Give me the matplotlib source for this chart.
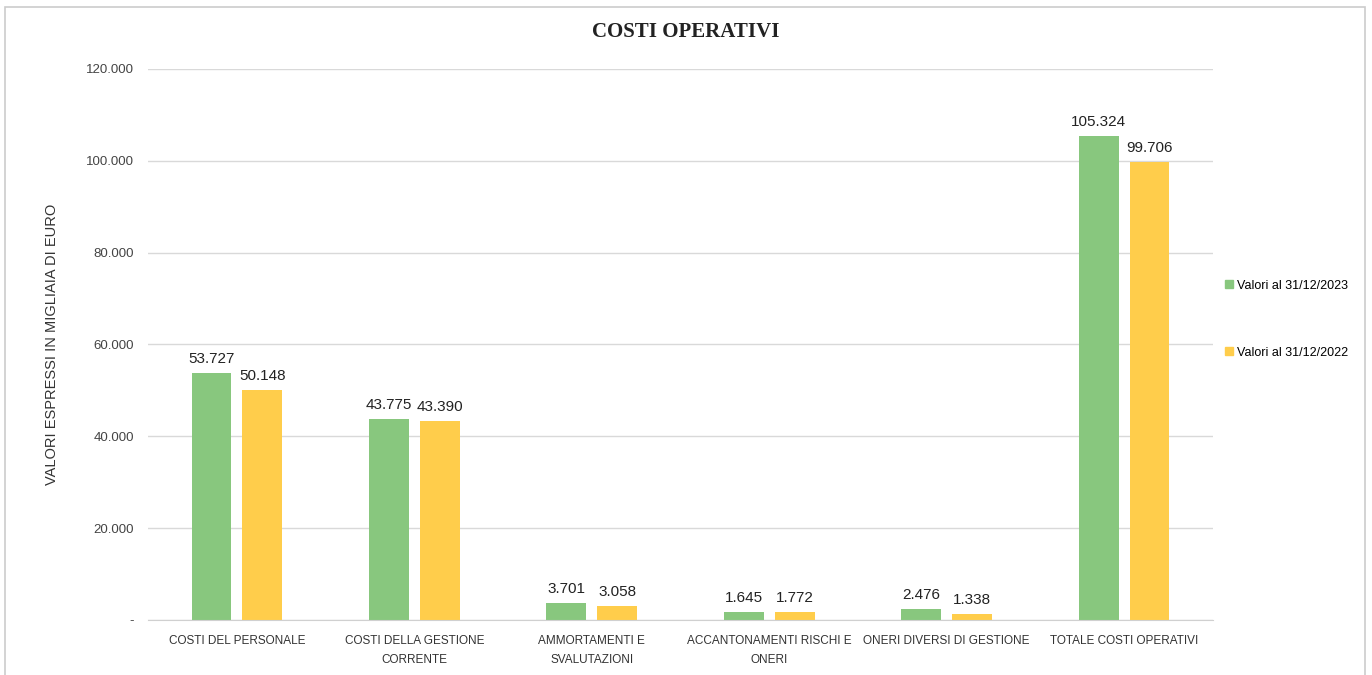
import numpy as np
import matplotlib.pyplot as plt
from matplotlib.patches import Rectangle, Patch
from matplotlib.ticker import FuncFormatter

categorie = ['COSTI DEL PERSONALE', 'COSTI DELLA GESTIONE\nCORRENTE', 'AMMORTAMENTI E\nSVALUTAZIONI',
             'ACCANTONAMENTI RISCHI E\nONERI', 'ONERI DIVERSI DI GESTIONE', 'TOTALE COSTI OPERATIVI']
valori_2023 = [53727, 43775, 3701, 1645, 2476, 105324]
valori_2022 = [50148, 43390, 3058, 1772, 1338, 99706]
etichette = ['Valori al 31/12/2023', 'Valori al 31/12/2022']

VERDE = '#88C77E'
GIALLO = '#FFCD4B'

STRETTO = ['DejaVu Sans Condensed', 'Liberation Sans Narrow', 'Liberation Sans']
plt.rcParams['font.family'] = STRETTO

def fmt(v, pos=None):
    if v == 0:
        return '-'
    return f'{v:,.0f}'.replace(',', '.')

fig = plt.figure(figsize=(13.72, 6.75), dpi=100)
ax = fig.add_axes([0.108, 0.0815, 0.776, 0.8165])

x = np.arange(len(categorie))
w = 0.225
off = 0.143
b1 = ax.bar(x - off, valori_2023, w, color=VERDE)
b2 = ax.bar(x + off, valori_2022, w, color=GIALLO)

for bars, vals in ((b1, valori_2023), (b2, valori_2022)):
    for r, v in zip(bars, vals):
        ax.annotate(fmt(v), (r.get_x() + r.get_width() / 2, v), xytext=(0, 5),
                    textcoords='offset points', ha='center', va='bottom',
                    fontsize=11, color='#222222')

ax.set_xlim(-0.5, len(categorie) - 0.5)
ax.set_ylim(0, 120000)
ax.set_yticks(np.arange(0, 120001, 20000))
ax.yaxis.set_major_formatter(FuncFormatter(fmt))
ax.set_xticks(x)
ax.set_xticklabels(categorie, fontsize=8.5, color='#333333', linespacing=1.7)
ax.tick_params(axis='y', labelsize=9.5, labelcolor='#444444', length=0, pad=10)
ax.tick_params(axis='x', length=0, pad=11)
ax.grid(axis='y', color='#D9D9D9', lw=1)
ax.set_axisbelow(True)
for s in ['top', 'right', 'left']:
    ax.spines[s].set_visible(False)
ax.spines['bottom'].set_color('#D0D0D0')

ax.set_ylabel('VALORI ESPRESSI IN MIGLIAIA DI EURO', fontsize=10.5, color='#333333',
              family=['Liberation Sans', 'DejaVu Sans'], labelpad=20)

fig.text(0.5, 0.952, 'COSTI OPERATIVI', ha='center', va='center', fontsize=15,
         fontweight='bold', family=['Liberation Serif', 'DejaVu Serif'], color='#222222')

handles = [Patch(color=VERDE), Patch(color=GIALLO)]
fig.legend(handles, etichette, loc='center left', bbox_to_anchor=(0.885, 0.527),
           frameon=False, fontsize=9, handlelength=0.6, handleheight=0.6,
           handletextpad=0.3, labelspacing=4.4)

fig.patches.append(Rectangle((0.004, -0.01), 0.991, 1.0, transform=fig.transFigure,
                             fill=False, edgecolor='#CCCCCC', lw=1.2))

fig.savefig('out.png', dpi=100)
